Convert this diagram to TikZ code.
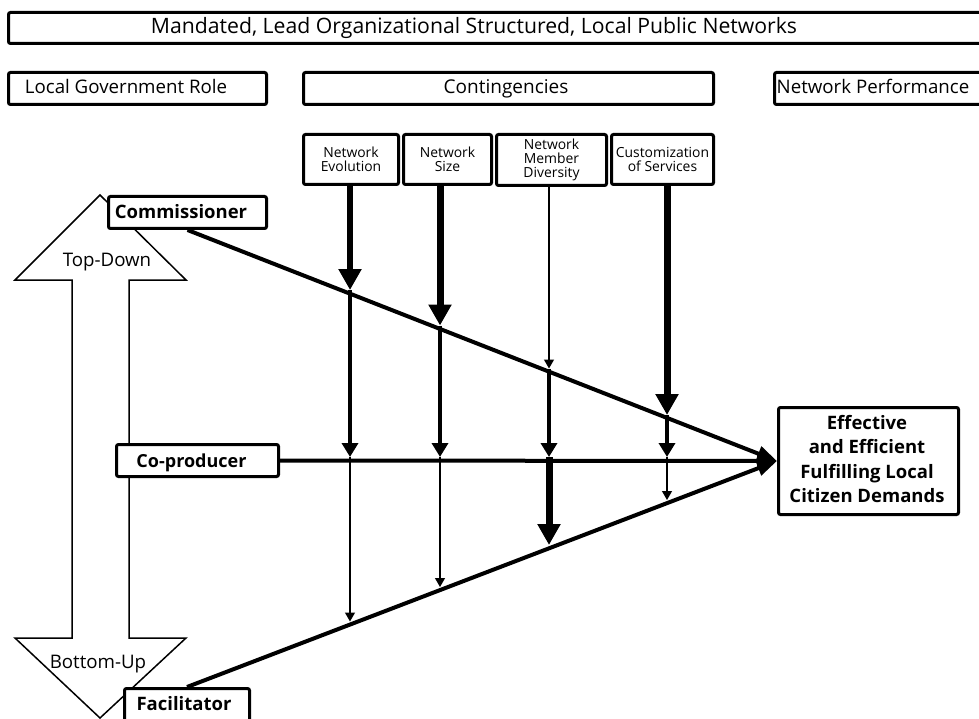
\documentclass[tikz,border=0pt]{standalone}
\usepackage{fontspec}
\setmainfont{Open Sans}
\usetikzlibrary{arrows.meta}
\begin{document}
\begin{tikzpicture}[x=1pt,y=-1pt,
  frame/.style={draw, line width=3pt, rounded corners=2pt, fill=white, inner sep=0pt, anchor=north west},
  lbl/.style={font=\fontsize{18.7}{22}\selectfont, inner sep=0pt, anchor=base},
  small/.style={font=\fontsize{13.9}{14}\selectfont, align=center},
  boldlbl/.style={font=\bfseries\fontsize{18.5}{22}\selectfont, inner sep=0pt, anchor=base},
  mainline/.style={line width=4pt, -{Triangle[width=15pt,length=20pt]}},
  heavy/.style={line width=7pt, -{Triangle[width=22pt,length=21pt]}},
  medium/.style={line width=4.5pt, -{Triangle[width=16pt,length=14pt]}},
  light/.style={line width=1.2pt, -{Triangle[width=10pt,length=9pt]}},
  block/.style={draw, line width=1.5pt, fill=white, line join=miter}
]
\useasboundingbox (0,0) rectangle (979,719);
\clip (0,0) rectangle (979,719);

% double block arrow
\path[block] (100,195) -- (186,280) -- (129,280) -- (129,638) -- (186,638)
  -- (100,718) -- (15,638) -- (72,638) -- (72,280) -- (15,280) -- cycle;
\node[lbl] (td) at (107,266) {Top-Down};
\node[lbl] (bu) at (98,668) {Bottom-Up};

% header boxes
\node[frame, minimum width=990pt, minimum height=31pt] (title) at (7,11) {};
\node[lbl, font=\fontsize{21.2}{24}\selectfont] (titletxt) at (474,33.5) {Mandated, Lead Organizational Structured, Local Public Networks};
\node[frame, minimum width=258pt, minimum height=32pt] (lgr) at (7,71) {};
\node[lbl] (lgrtxt) at (126,94) {Local Government Role};
\node[frame, minimum width=410pt, minimum height=32pt] (cont) at (302,71) {};
\node[lbl, font=\fontsize{19}{22}\selectfont] (conttxt) at (506,94) {Contingencies};
\node[frame, minimum width=220pt, minimum height=32pt] (np) at (773,71) {};
\node[lbl] (nptxt) at (873,94) {Network Performance};

% contingency boxes
\node[frame, small, minimum width=95pt, minimum height=50pt] (ne) at (302,133) {Network\\Evolution};
\node[frame, small, minimum width=88pt, minimum height=50pt] (ns) at (402,133) {Network\\Size};
\node[frame, small, minimum width=110pt, minimum height=51pt] (nd) at (495,133) {Network\\Member\\Diversity};
\node[frame, small, minimum width=102pt, minimum height=50pt] (cs) at (610,133) {Customization\\of Services};

% role boxes
\node[frame, minimum width=158pt, minimum height=32pt] (comm) at (107,195) {};
\node[boldlbl] (commtxt) at (181,218.5) {Commissioner};
\node[frame, minimum width=162pt, minimum height=32pt] (cop) at (115,443) {};
\node[boldlbl, font=\bfseries\fontsize{18}{22}\selectfont] (coptxt) at (191.5,467) {Co-producer};
\node[frame, minimum width=125pt, minimum height=45pt] (fac) at (123,687) {};
\node[boldlbl] (factxt) at (184,710) {Facilitator};

% outcome box
\node[frame, minimum width=180pt, minimum height=107pt] (eff) at (777,406) {};
\node[align=center, inner sep=0pt, font=\bfseries\fontsize{18.5}{24.5}\selectfont] (efftxt)
  at (867,459) {Effective\\and Efficient\\Fulfilling Local\\Citizen Demands};

% main lines
\draw[mainline] (comm.south) -- (eff.west);
\draw[mainline] (cop.east) -- (eff.west);
\draw[mainline] (fac.north) -- (eff.west);

% intersection points
\coordinate (c1) at (350,290);
\coordinate (c2) at (440,325.5);
\coordinate (c3) at (549,368.5);
\coordinate (c4) at (667,415);
\coordinate (p1) at (350,457);
\coordinate (p2) at (440,457);
\coordinate (p3) at (549,457);
\coordinate (p4) at (667,457);
\coordinate (f1) at (350,621.5);
\coordinate (f2) at (440,587);
\coordinate (f3) at (549,545);
\coordinate (f4) at (667,500);

% stems
\draw[heavy, line width=6pt] (ne.south -| c1) -- (c1);
\draw[heavy] (ns.south -| c2) -- (c2);
\draw[light] (nd.south -| c3) -- (c3);
\draw[heavy] (cs.south -| c4) -- (c4);

\draw[medium] (c1) -- (p1);
\draw[medium] (c2) -- (p2);
\draw[medium] (c3) -- (p3);
\draw[medium, line width=3.5pt] (c4) -- (p4);

\draw[light] (p1) -- (f1);
\draw[light] (p2) -- (f2);
\draw[heavy] (p3) -- (f3);
\draw[light] (p4) -- (f4);
\end{tikzpicture}
\end{document}
